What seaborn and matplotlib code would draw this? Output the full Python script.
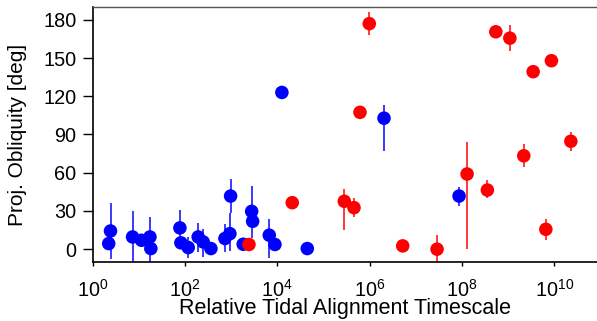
import numpy as np
import pandas as pd
import matplotlib
matplotlib.use("Agg")
import matplotlib.pyplot as plt
import seaborn as sns

# ---- data ----
blue_x = [2.45, 2.24, 7.36, 11.5, 17.5, 18.3, 78, 82, 118, 194, 249, 366, 736, 944, 977,
          1830, 2790, 2930, 6710, 8910, 12600, 44700, 2.05e6, 8.65e7]
blue_y = [14.3, 4.4, 9.6, 7, 9.6, 0.5, 16.7, 5, 1.3, 9.6, 5.7, 0.5, 8.4, 12.2, 41.7,
          3.9, 29.7, 21.9, 11, 3.7, 123, 0.5, 102.8, 41.7]
blue_lo = [22, 0, 20, 0, 20, 0, 14, 0, 8, 12, 12, 0, 10.5, 14, 13, 0, 21, 0, 18, 0, 0, 0, 26, 8]
blue_hi = [22, 0, 20, 0, 16, 0, 14, 0, 8, 11, 10.5, 0, 11, 16, 13, 0, 20, 0, 13, 0, 0, 0, 10, 7]

red_x = [2440, 21100, 9.84e5, 6.19e5, 2.83e5, 4.59e5, 5.21e6, 2.89e7, 1.29e8, 3.55e8,
         5.41e8, 1.09e9, 3.48e9, 8.65e9, 2.28e10, 2.18e9, 6.55e9]
red_y = [3.7, 36.5, 177, 107.4, 37.6, 32.6, 2.6, 0, 59, 46.4, 170.6, 165.6, 139.3, 147.9,
         84.7, 73.3, 15.6]
red_lo = [0, 0, 9, 0, 22.6, 7.5, 0, 11, 59, 6, 0, 10, 0, 0, 7.5, 9, 8]
red_hi = [0, 0, 9, 0, 9.4, 7.5, 0, 11.5, 25.5, 7.6, 0, 10, 0, 0, 7.5, 9, 8]

x_ticks = [1, 1e2, 1e4, 1e6, 1e8, 1e10]
y_ticks = [0, 30, 60, 90, 120, 150, 180]

df = pd.DataFrame({
    "x": blue_x + red_x,
    "y": blue_y + red_y,
    "lo": blue_lo + red_lo,
    "hi": blue_hi + red_hi,
    "group": ["blue"] * len(blue_x) + ["red"] * len(red_x),
})

sns.set_style("ticks")
plt.rcParams["font.family"] = ["Liberation Sans", "DejaVu Sans"]
plt.rcParams["mathtext.fontset"] = "custom"
plt.rcParams["mathtext.rm"] = "Liberation Sans"
plt.rcParams["mathtext.it"] = "Liberation Sans"
plt.rcParams["text.color"] = "black"
plt.rcParams["axes.labelcolor"] = "black"
plt.rcParams["xtick.color"] = "black"
plt.rcParams["ytick.color"] = "black"

fig = plt.figure(figsize=(5.97, 3.21), dpi=100)
ax = fig.add_axes([0.155, 0.184, 0.847, 0.794])

bar_colors = {"blue": "#3a3aff", "red": "#ff3a3a"}
for g, sub in df.groupby("group"):
    m = (sub["lo"] > 0) | (sub["hi"] > 0)
    s = sub[m]
    ax.errorbar(s["x"], s["y"], yerr=[s["lo"], s["hi"]], fmt="none",
                ecolor=bar_colors[g], elinewidth=1.4, capsize=0, zorder=1)

sns.scatterplot(data=df, x="x", y="y", hue="group",
                palette={"blue": "#0000ff", "red": "#ff0000"},
                s=95, linewidth=0, legend=False, ax=ax, zorder=2)

ax.set_xscale("log")
ax.set_xlim(1, 10 ** 10.95)
ax.set_ylim(-10, 190)
ax.set_xticks(x_ticks)
ax.xaxis.set_minor_locator(matplotlib.ticker.NullLocator())
ax.set_yticks(y_ticks)

ax.tick_params(axis="y", direction="out", length=7, width=1, labelsize=14.3, pad=4.5)
ax.tick_params(axis="x", direction="out", length=3, width=1, labelsize=14.3, pad=9)

for side in ["left", "bottom"]:
    ax.spines[side].set_color("black")
    ax.spines[side].set_linewidth(1.2)
ax.spines["top"].set_color("#555555")
ax.spines["top"].set_linewidth(1.0)
ax.spines["right"].set_visible(False)

ax.set_xlabel("Relative Tidal Alignment Timescale", fontsize=15.5, labelpad=-1.5)
ax.set_ylabel("Proj. Obliquity [deg]", fontsize=15, labelpad=12)

fig.savefig("out.png", dpi=100)
